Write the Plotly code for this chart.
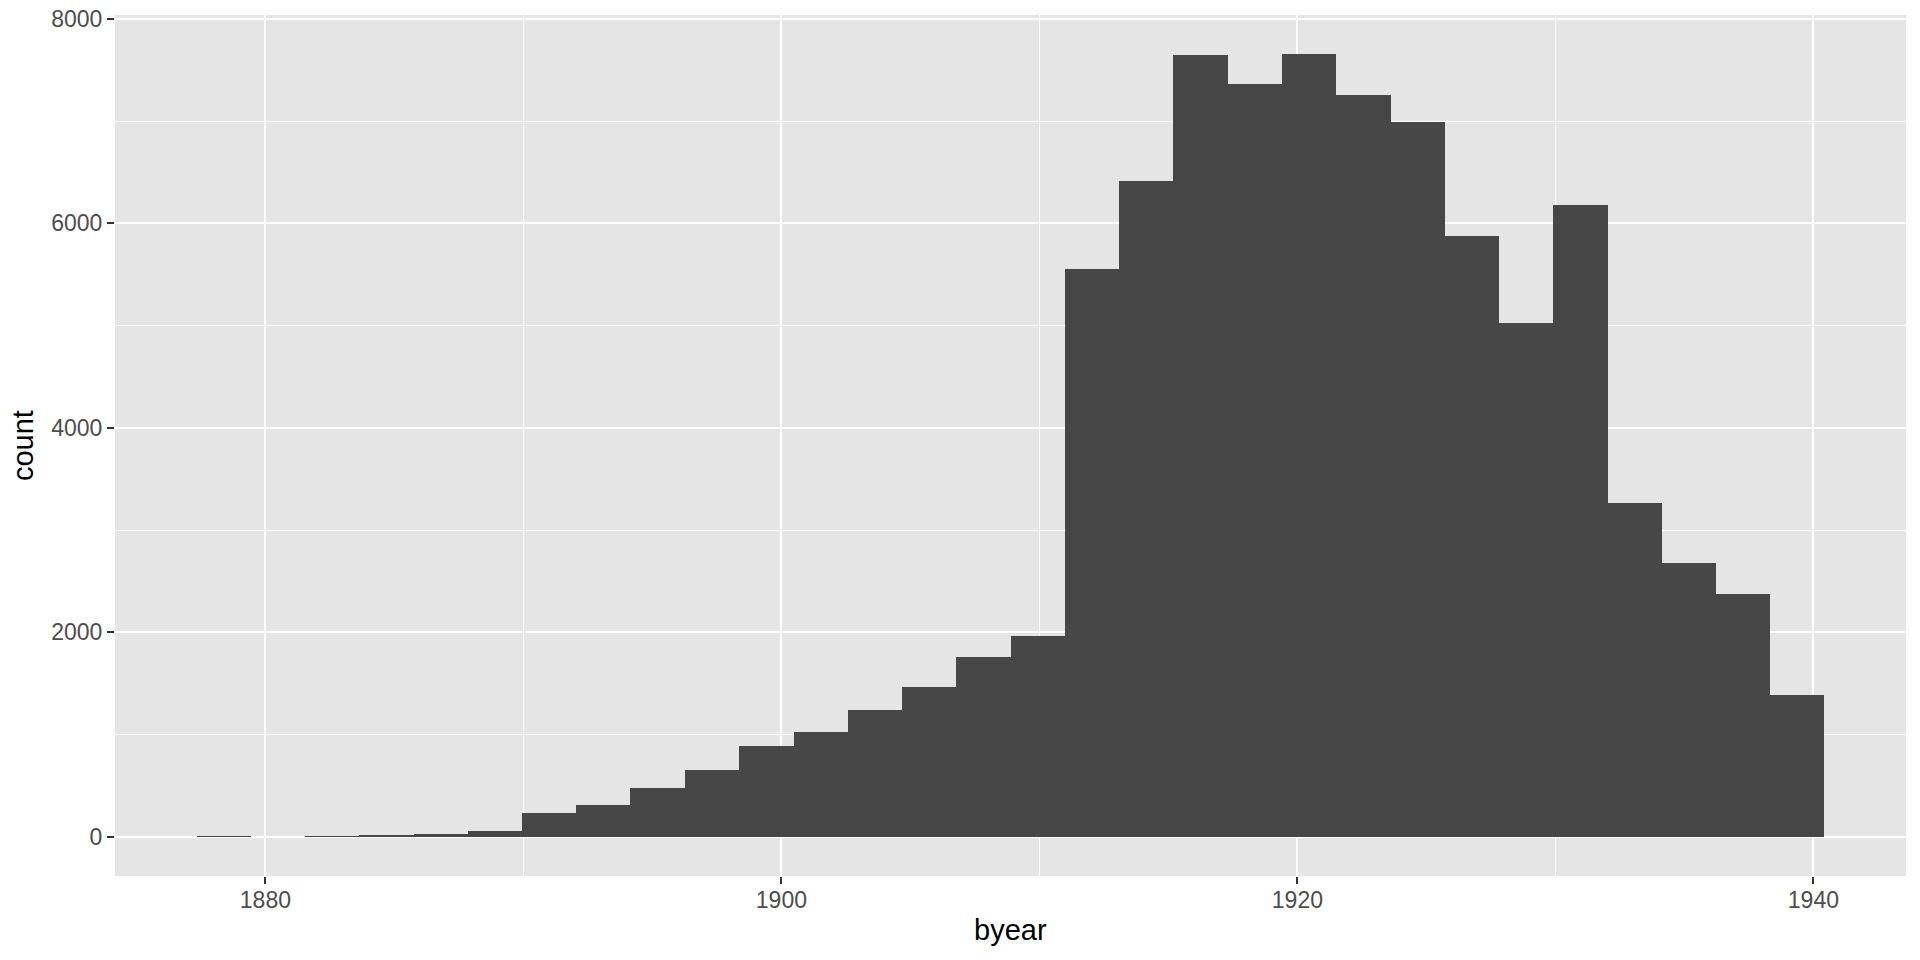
import plotly.graph_objects as go

# histogram of byear, 30 bins -> 31 bin edges (years)
bin_edges = [1877.33, 1879.43, 1881.53, 1883.64, 1885.74, 1887.84, 1889.95, 1892.05,
             1894.15, 1896.26, 1898.36, 1900.47, 1902.57, 1904.67, 1906.78, 1908.88,
             1910.98, 1913.09, 1915.19, 1917.30, 1919.40, 1921.50, 1923.61, 1925.71,
             1927.81, 1929.92, 1932.02, 1934.12, 1936.23, 1938.33, 1940.43]

counts = [3, 0, 4, 12, 26, 56, 232, 310,
          475, 650, 885, 1021, 1236, 1470, 1763, 1967,
          5554, 6414, 7645, 7362, 7655, 7254, 6990, 5876,
          5026, 6179, 3263, 2677, 2375, 1385]

x_ticks = [1880, 1900, 1920, 1940]
y_ticks = [0, 2000, 4000, 6000, 8000]

font_family = "Liberation Sans, Arial, Helvetica, sans-serif"

left = bin_edges[:-1]
widths = [b - a for a, b in zip(bin_edges[:-1], bin_edges[1:])]

fig = go.Figure()
fig.add_trace(go.Bar(
    x=left, y=counts, width=widths, offset=0,
    marker=dict(color="#474747", line=dict(width=0)),
    hoverinfo="x+y",
))

fig.update_layout(
    width=1920, height=960,
    margin=dict(l=115, r=14, t=15, b=84, autoexpand=False),
    paper_bgcolor="white",
    plot_bgcolor="#E5E5E5",
    bargap=0,
    showlegend=False,
    font=dict(family=font_family),
    annotations=[
        dict(text="byear", xref="paper", yref="paper", x=0.5, y=-0.0627,
             xanchor="center", yanchor="middle", showarrow=False,
             font=dict(size=29, color="black")),
        dict(text="count", xref="paper", yref="paper", x=-0.0516, y=0.5,
             xanchor="center", yanchor="middle", showarrow=False, textangle=-90,
             font=dict(size=29, color="black")),
    ],
)

fig.update_xaxes(
    range=[1874.17, 1943.59], automargin=False,
    tickmode="array", tickvals=x_ticks, tickformat="d",
    ticks="outside", ticklen=7, tickwidth=1.5, tickcolor="#333333",
    tickfont=dict(size=23, color="#4D4D4D"), ticklabelstandoff=-4,
    showgrid=True, gridcolor="white", gridwidth=2,
    minor=dict(tickmode="array", tickvals=[1890, 1910, 1930],
               showgrid=True, gridcolor="white", gridwidth=1, ticks=""),
    zeroline=False, showline=False,
)

fig.update_yaxes(
    range=[-383, 8038], automargin=False,
    tickmode="array", tickvals=y_ticks, tickformat="d",
    ticks="outside", ticklen=7, tickwidth=1.5, tickcolor="#333333",
    tickfont=dict(size=23, color="#4D4D4D"),
    showgrid=True, gridcolor="white", gridwidth=2,
    minor=dict(tickmode="array", tickvals=[1000, 3000, 5000, 7000],
               showgrid=True, gridcolor="white", gridwidth=1, ticks=""),
    zeroline=False, showline=False,
)

# drop the default body margin so the 1920x960 figure sits at the page origin
fig.write_html("out.html", config={"displayModeBar": False},
               post_script="document.body.style.margin = '0';")
